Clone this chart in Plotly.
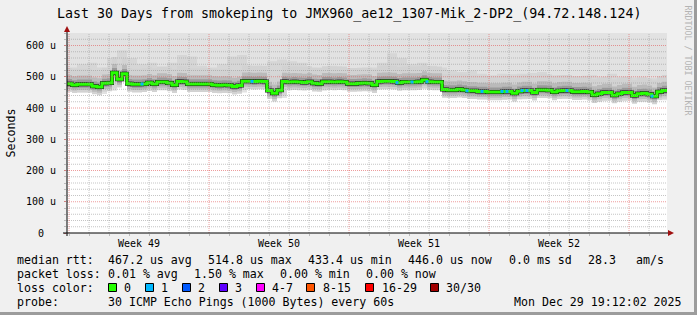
import pandas as pd
import plotly.graph_objects as go

# ---------------- data ----------------
START = pd.Timestamp("2025-11-30 21:36")

# median RTT every 6 hours (microseconds)
median_rtt = [
    478, 474, 476, 476, 476, 470, 467, 479, 480, 513, 492, 510, 478, 476, 476, 477,
    481, 477, 483, 483, 480, 474, 485, 484, 477, 477, 477, 477, 477, 474, 473, 474,
    473, 469, 472, 486, 486, 485, 486, 485, 456, 447, 457, 485, 483, 484, 483, 482,
    484, 479, 478, 484, 484, 483, 484, 483, 478, 478, 479, 480, 479, 474, 485, 486,
    486, 485, 481, 483, 483, 483, 484, 490, 484, 483, 483, 459, 458, 458, 460, 458,
    455, 455, 453, 453, 451, 451, 451, 453, 453, 447, 454, 456, 456, 450, 458, 458,
    457, 451, 455, 456, 456, 452, 452, 453, 451, 442, 446, 450, 450, 441, 446, 450,
    450, 440, 446, 447, 444, 438, 452, 456, 456,
]
# lost pings per 6-hour slot (out of 30)
loss = [0] * len(median_rtt)
for i in [15, 37, 66, 69, 72, 80, 83, 87, 88, 91, 92, 100, 117]:
    loss[i] = 1

# smoke envelope every 12 hours (microseconds)
smoke_lower = [
    452, 450, 450, 445, 455, 485, 455, 452, 455, 458, 455, 460, 453, 452, 452, 450,
    448, 450, 462, 462, 432, 432, 460, 460, 458, 455, 460, 460, 455, 455, 455, 460,
    462, 458, 460, 460, 462, 460, 432, 435, 430, 428, 426, 426, 428, 428, 430, 432,
    432, 430, 430, 428, 425, 422, 425, 422, 425, 420, 420, 425, 430,
]
smoke_upper = [
    530, 540, 545, 530, 560, 585, 560, 540, 545, 530, 545, 570, 565, 535, 530, 540,
    565, 570, 535, 530, 550, 555, 550, 545, 530, 530, 535, 525, 520, 525, 530, 545,
    575, 560, 540, 545, 535, 530, 520, 515, 520, 510, 505, 510, 508, 510, 512, 515,
    505, 505, 500, 500, 505, 500, 510, 500, 498, 500, 495, 500, 505,
]
smoke_top = [640] * 61

# spread of the dense smoke around the median: (below, above, shade)
smoke_profile = [(-26, 50, "#d2d2d2"), (-18, 28, "#bababa"),
                 (-11, 15, "#9a9a9a"), (-6, 7, "#6a6a6a")]

y_ticks = [0, 100, 200, 300, 400, 500, 600]
y_ticktext = ["0\u00a0\u00a0", "100 u", "200 u", "300 u", "400 u", "500 u", "600 u"]
week_pos = ["2025-12-04 12:00", "2025-12-11 12:00", "2025-12-18 12:00", "2025-12-25 12:00"]
week_text = ["Week 49", "Week 50", "Week 51", "Week 52"]

loss_labels = ["0", "1", "2", "3", "4-7", "8-15", "16-29", "30/30"]
loss_colors = ["#26ff00", "#00b8ff", "#0059ff", "#5e00ff", "#ff00ff", "#ff5500", "#ff0000", "#a10000"]

# ---------------- figure ----------------
time = pd.date_range(START, periods=len(median_rtt), freq="6h")
smoke_time = pd.date_range(START, periods=len(smoke_top), freq="12h")
END = time[-1]

MONO = "DejaVu Sans Mono"
L, T, W, H = 67, 33, 600, 200
def px(x):
    return (x - L) / W
def py(y):
    return (T + H - y) / H

fig = go.Figure()

def band(x, lo, hi, color):
    fig.add_trace(go.Scatter(x=x, y=lo, mode="lines", line=dict(width=0, shape="hv"),
                             hoverinfo="skip", showlegend=False))
    fig.add_trace(go.Scatter(x=x, y=hi, mode="lines", line=dict(width=0, shape="hv"),
                             fill="tonexty", fillcolor=color, hoverinfo="skip", showlegend=False))

band(smoke_time, smoke_lower, smoke_top, "#e2e2e2")
band(smoke_time, [v + 8 for v in smoke_lower], smoke_upper, "#d6d6d6")
for lo_off, hi_off, col in smoke_profile:
    band(time, [m + lo_off for m in median_rtt], [m + hi_off for m in median_rtt], col)

fig.add_trace(go.Scatter(x=time, y=median_rtt, mode="lines",
                         line=dict(color="#1a1a1a", width=4, shape="hv"),
                         hoverinfo="skip", showlegend=False))
fig.add_trace(go.Scatter(x=time, y=median_rtt, mode="lines",
                         line=dict(color=loss_colors[0], width=3, shape="hv"),
                         showlegend=False))
lx = [t for t, l in zip(time, loss) if l == 1]
ly = [m for m, l in zip(median_rtt, loss) if l == 1]
fig.add_trace(go.Scatter(x=lx, y=ly, mode="markers",
                         marker=dict(symbol="square", size=3, color=loss_colors[1], line=dict(width=0)),
                         showlegend=False))

# grid drawn over the data (like rrdtool)
shapes = []
GRAY = "rgba(150,150,150,0.55)"
RED = "rgba(225,90,90,0.6)"
for v in range(20, 640, 20):
    shapes.append(dict(type="line", xref="paper", yref="y", x0=0, x1=1, y0=v, y1=v, layer="above",
                       line=dict(color=RED if v % 100 == 0 else GRAY, width=1, dash="1px,1px")))
for d in pd.date_range("2025-12-01", "2025-12-30", freq="D"):
    shapes.append(dict(type="line", xref="x", yref="paper", x0=d, x1=d, y0=0, y1=1, layer="above",
                       line=dict(color=RED if d.dayofweek == 0 else GRAY, width=1, dash="1px,1px")))
# axis lines and arrows
shapes.append(dict(type="line", xref="paper", yref="paper", x0=px(63), x1=px(668), y0=0, y1=0,
                   layer="above", line=dict(color="black", width=1)))
shapes.append(dict(type="line", xref="paper", yref="paper", x0=0, x1=0, y0=py(236), y1=py(31),
                   layer="above", line=dict(color="black", width=1)))
shapes.append(dict(type="path", xref="paper", yref="paper", xsizemode="pixel", ysizemode="pixel",
                   xanchor=px(668), yanchor=0, path="M 0,-3 L 0,3 L 6,0 Z",
                   fillcolor="#a01010", line=dict(width=0), layer="above"))
shapes.append(dict(type="path", xref="paper", yref="paper", xsizemode="pixel", ysizemode="pixel",
                   xanchor=0, yanchor=py(32), path="M -3,0 L 3,0 L 0,6 Z",
                   fillcolor="#a01010", line=dict(width=0), layer="above"))
# frame shading
shapes.append(dict(type="rect", xref="paper", yref="paper", x0=px(694), x1=px(697), y0=py(315), y1=py(0),
                   fillcolor="#9c9c9c", line=dict(width=0), layer="above"))
shapes.append(dict(type="rect", xref="paper", yref="paper", x0=px(0), x1=px(697), y0=py(315), y1=py(312),
                   fillcolor="#9c9c9c", line=dict(width=0), layer="above"))

# legend boxes
box_x = [108.5, 145.5, 182.5, 219.5, 256.5, 306.5, 365.5, 430.5]
lab_x = [123.3, 160, 197, 234, 271, 322, 380.7, 445.3]
for bx, col in zip(box_x, loss_colors):
    shapes.append(dict(type="rect", xref="paper", yref="paper", x0=px(bx), x1=px(bx + 8),
                       y0=py(291.5), y1=py(283.5), fillcolor=col, line=dict(color="black", width=1),
                       layer="above"))

ann = []
def text(x, y, s, size=11.6, anchor="left", color="black", angle=0):
    ann.append(dict(x=px(x), y=py(y), xref="paper", yref="paper", text=s, showarrow=False,
                    xanchor=anchor, yanchor="middle", textangle=angle, borderpad=0,
                    font=dict(family=MONO, size=size, color=color)))

text(348.5, 14.5, "Last 30 Days from smokeping to JMX960_ae12_1307-Mik_2-DP2_(94.72.148.124)",
     size=13.3, anchor="center")
text(10.5, 133, "Seconds", angle=-90, anchor="center")
text(687.5, 60, "RRDTOOL / TOBI OETIKER", size=8.3, anchor="center", color="#b4b4b4", angle=90)

r1 = [(16, "median rtt:"), (107.3, "467.2 us avg"), (207.3, "514.8 us max"), (306.7, "433.4 us min"),
      (407, "446.0 us now"), (507.7, "0.0 ms sd"), (586.7, "28.3"), (635.3, "am/s")]
r2 = [(16, "packet loss:"), (107.3, "0.01 % avg"), (193.3, "1.50 % max"), (279.3, "0.00 % min"),
      (365.3, "0.00 % now")]
r3 = [(16, "loss color:")] + list(zip(lab_x, loss_labels))
r4 = [(16, "probe:"), (107.3, "30 ICMP Echo Pings (1000 Bytes) every 60s"), (513, "Mon Dec 29 19:12:02 2025")]
for row, yy in [(r1, 259.5), (r2, 273.5), (r3, 287.5), (r4, 301.5)]:
    for x, s in row:
        text(x, yy, s)

fig.update_layout(
    width=697, height=315,
    margin=dict(l=L, r=697 - L - W, t=T, b=315 - T - H, pad=0),
    paper_bgcolor="#f0f0f0", plot_bgcolor="white",
    shapes=shapes, annotations=ann, showlegend=False,
    xaxis=dict(type="date", range=[START, END], tickmode="array", tickvals=week_pos, ticktext=week_text,
               showgrid=False, zeroline=False, showline=False, ticks="",
               ticklabelstandoff=3,
               tickfont=dict(family=MONO, size=10, color="black"),
               minor=dict(tickmode="linear", tick0="2025-12-01", dtick=86400000, ticks="outside",
                          ticklen=2, tickcolor="#bbbbbb", showgrid=False)),
    yaxis=dict(range=[0, 640], tickmode="array", tickvals=y_ticks, ticktext=y_ticktext,
               showgrid=False, zeroline=False, showline=False, ticks="outside", ticklen=2,
               tickcolor="#d08080", ticklabelstandoff=6,
               tickfont=dict(family=MONO, size=10, color="black"),
               minor=dict(tickmode="linear", tick0=0, dtick=20, ticks="outside", ticklen=2,
                          tickcolor="#bbbbbb", showgrid=False)),
)

fig.write_html("out.html")
